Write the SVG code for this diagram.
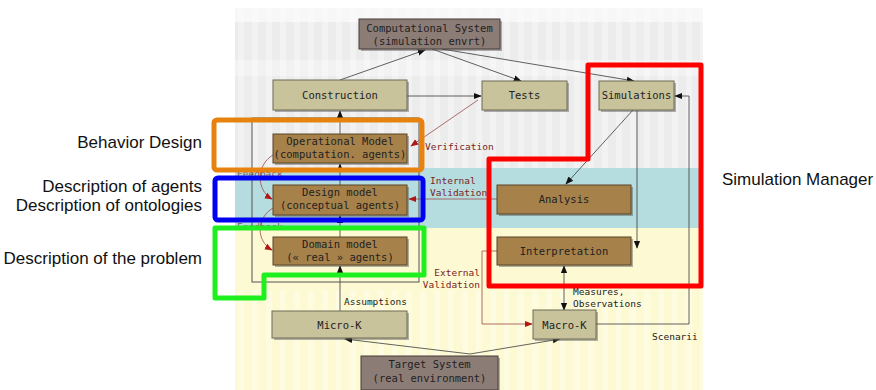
<svg xmlns="http://www.w3.org/2000/svg" width="876" height="390" viewBox="0 0 876 390">
  <defs>
    <style>
      .lbl{font-family:"Liberation Sans",Arial,sans-serif;font-size:17px;fill:#111;text-anchor:end}
      .lbs{font-family:"Liberation Sans",Arial,sans-serif;font-size:17px;fill:#111;text-anchor:start}
      .t{font-family:"DejaVu Sans Mono",monospace;font-size:10.5px;fill:#222;text-anchor:middle}
      .r{font-family:"DejaVu Sans Mono",monospace;font-size:9.5px;fill:#7a2424}
      .n{font-family:"DejaVu Sans Mono",monospace;font-size:9.5px;fill:#222}
      .k{fill:#c9c39b;stroke:#6f6a55;stroke-width:1}
      .b{fill:#a6814a;stroke:#5a4526;stroke-width:1}
      .g{fill:#8c7c76;stroke:#463c38;stroke-width:1}
      .sh{fill:#555;opacity:.45}
      .c{fill:none;stroke:#3a3a3a;stroke-width:0.8}
      .cr{fill:none;stroke:#9c4a4a;stroke-width:0.8}
      .hl{fill:none;stroke-width:5;stroke-linejoin:round}
    </style>
    <marker id="ab" viewBox="0 0 10 10" refX="9" refY="5" markerWidth="8" markerHeight="8" markerUnits="userSpaceOnUse" orient="auto-start-reverse">
      <path d="M0,1 L10,5 L0,9 Z" fill="#111"/>
    </marker>
    <marker id="ar" viewBox="0 0 10 10" refX="9" refY="5" markerWidth="8" markerHeight="8" markerUnits="userSpaceOnUse" orient="auto">
      <path d="M0,1 L10,5 L0,9 Z" fill="#b01818"/>
    </marker>
    <pattern id="stripes" width="14" height="10" patternUnits="userSpaceOnUse">
      <rect x="0" y="0" width="6" height="10" fill="#ffffff" opacity="0.3"/>
    </pattern>
  </defs>

  <!-- background bands -->
  <g id="background">
    <rect x="235" y="8" width="468" height="160" fill="#ececec"/>
    <rect x="235" y="8" width="468" height="14" fill="#ffffff" opacity="0.6"/>
    <rect x="235" y="60" width="468" height="16" fill="#ffffff" opacity="0.35"/>
    <rect x="235" y="8" width="468" height="160" fill="url(#stripes)"/>
    <rect x="235" y="168" width="468" height="60" fill="#b5dcdf"/>
    <rect x="235" y="228" width="468" height="162" fill="#fcf9d3"/>
    <rect x="235" y="290" width="468" height="100" fill="url(#stripes)"/>
    <rect x="252" y="118" width="167" height="164" fill="none" stroke="#555" stroke-width="1"/>
  </g>

  <!-- connectors -->
  <g id="connectors">
    <path class="c" d="M340,80 L425,50" marker-end="url(#ab)"/>
    <path class="c" d="M432,49 L521,81" marker-end="url(#ab)"/>
    <path class="c" d="M442,49 L634,81" marker-end="url(#ab)"/>
    <path class="c" d="M407,96 H481" marker-end="url(#ab)"/>
    <path class="c" d="M340,311 V266" marker-end="url(#ab)"/>
    <path class="c" d="M340,237 V216" marker-end="url(#ab)"/>
    <path class="c" d="M340,185 V164" marker-end="url(#ab)"/>
    <path class="c" d="M340,134 V111" marker-end="url(#ab)"/>
    <path class="c" d="M633,110 L566,184" marker-end="url(#ab)"/>
    <path class="c" d="M637,110 V248" marker-end="url(#ab)"/>
    <path class="c" d="M596,324 H689 V96 H675" marker-end="url(#ab)"/>
    <path class="c" d="M564,266 V310" marker-start="url(#ab)" marker-end="url(#ab)"/>
    <path class="c" d="M470,354 L345,339" marker-end="url(#ab)"/>
    <path class="c" d="M470,354 L560,339" marker-end="url(#ab)"/>
    <path class="cr" d="M478,100 L411,146" marker-end="url(#ar)"/>
    <path class="cr" d="M497,199 H409" marker-end="url(#ar)"/>
    <path class="cr" d="M497,251 H482 V324 H532" marker-end="url(#ar)"/>
    <path class="cr" d="M273,155 C256,165 256,190 272,199" marker-end="url(#ar)"/>
    <path class="cr" d="M273,208 C256,218 256,241 272,250" marker-end="url(#ar)"/>
    <text class="r" x="237" y="177" font-size="8" opacity="0.7">Feedback</text>
    <text class="r" x="237" y="230" font-size="8" opacity="0.7">Feedback</text>
    <text class="r" x="425" y="150">Verification</text>
    <text class="r" x="430" y="184">Internal</text>
    <text class="r" x="430" y="196">Validation</text>
    <text class="r" x="480" y="276" text-anchor="end">External</text>
    <text class="r" x="480" y="288" text-anchor="end">Validation</text>
    <text class="n" x="573" y="295">Measures,</text>
    <text class="n" x="573" y="307">Observations</text>
    <text class="n" x="344" y="305">Assumptions</text>
    <text class="n" x="652" y="340">Scenarii</text>
  </g>

  <!-- nodes -->
  <g id="computational">
    <rect class="sh" x="361" y="21" width="141" height="30"/>
    <rect class="g" x="359" y="19" width="141" height="30"/>
    <text class="t" x="429.5" y="32">Computational System</text>
    <text class="t" x="429.5" y="45">(simulation envrt)</text>
  </g>
  <g id="construction">
    <rect class="sh" x="275" y="82" width="134" height="30"/>
    <rect class="k" x="273" y="80" width="134" height="30"/>
    <text class="t" x="340" y="99">Construction</text>
  </g>
  <g id="tests">
    <rect class="sh" x="484" y="83" width="85" height="29"/>
    <rect class="k" x="482" y="81" width="85" height="29"/>
    <text class="t" x="524.5" y="99">Tests</text>
  </g>
  <g id="simulations">
    <rect class="sh" x="601" y="83" width="75" height="29"/>
    <rect class="k" x="599" y="81" width="75" height="29"/>
    <text class="t" x="636.5" y="99">Simulations</text>
  </g>
  <g id="operational-model">
    <rect class="sh" x="275" y="136" width="134" height="29"/>
    <rect class="b" x="273" y="134" width="134" height="29"/>
    <text class="t" x="340" y="145">Operational Model</text>
    <text class="t" x="340" y="158">(computation. agents)</text>
  </g>
  <g id="design-model">
    <rect class="sh" x="275" y="187" width="134" height="30"/>
    <rect class="b" x="273" y="185" width="134" height="30"/>
    <text class="t" x="340" y="196">Design model</text>
    <text class="t" x="340" y="209">(conceptual agents)</text>
  </g>
  <g id="domain-model">
    <rect class="sh" x="275" y="239" width="134" height="28"/>
    <rect class="b" x="273" y="237" width="134" height="28"/>
    <text class="t" x="340" y="248">Domain model</text>
    <text class="t" x="340" y="261">(« real » agents)</text>
  </g>
  <g id="analysis">
    <rect class="sh" x="499" y="187" width="134" height="29"/>
    <rect class="b" x="497" y="185" width="134" height="29"/>
    <text class="t" x="564" y="203">Analysis</text>
  </g>
  <g id="interpretation">
    <rect class="sh" x="499" y="239" width="134" height="28"/>
    <rect class="b" x="497" y="237" width="134" height="28"/>
    <text class="t" x="564" y="255">Interpretation</text>
  </g>
  <g id="micro-k">
    <rect class="sh" x="274" y="313" width="135" height="27"/>
    <rect class="k" x="272" y="311" width="135" height="27"/>
    <text class="t" x="339.5" y="329">Micro-K</text>
  </g>
  <g id="macro-k">
    <rect class="sh" x="535" y="312" width="63" height="29"/>
    <rect class="k" x="533" y="310" width="63" height="29"/>
    <text class="t" x="564.5" y="329">Macro-K</text>
  </g>
  <g id="target">
    <rect class="sh" x="363" y="358" width="137" height="34"/>
    <rect class="g" x="361" y="356" width="137" height="34"/>
    <text class="t" x="429.5" y="368">Target System</text>
    <text class="t" x="429.5" y="382">(real environment)</text>
  </g>

  <!-- highlight frames -->
  <g id="highlights">
    <rect class="hl" x="214" y="120" width="208" height="50" rx="3" stroke="#e8820e"/>
    <rect class="hl" x="215" y="178" width="208" height="42" rx="3" stroke="#0000f2"/>
    <path class="hl" d="M215,228 H424 V275 H264 V298 H215 Z" stroke="#1eef1e"/>
    <path class="hl" d="M588,65 H701 V286 H489 V159 H588 Z" stroke="#ff0000" stroke-width="6.5"/>
  </g>

  <!-- side labels -->
  <g id="labels">
    <text class="lbl" x="202" y="148">Behavior Design</text>
    <text class="lbl" x="202" y="192">Description of agents</text>
    <text class="lbl" x="202" y="211">Description of ontologies</text>
    <text class="lbl" x="202" y="264">Description of the problem</text>
    <text class="lbs" x="722" y="185">Simulation Manager</text>
  </g>
</svg>
